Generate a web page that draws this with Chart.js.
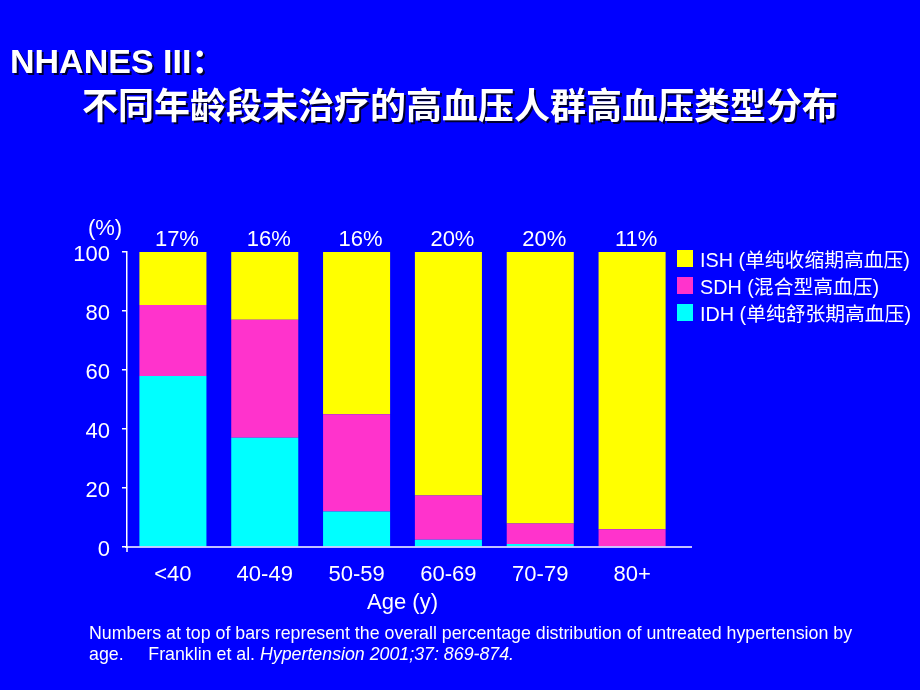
<!DOCTYPE html>
<html>
<head>
<meta charset="utf-8">
<script src="https://cdn.jsdelivr.net/npm/chart.js@4/dist/chart.umd.min.js"></script>
<style>
  body { margin: 0; background: #0000ff; }
  #wrap { position: relative; width: 920px; height: 690px; background: #0000ff; overflow: hidden; }
  #c { position: absolute; left: 0; top: 0; }
  .txt { position: absolute; color: #fff; white-space: nowrap; font-family: "Liberation Sans", Arial, "Noto Sans CJK SC", sans-serif; }
  #t1 { left: 10px; top: 44px; font-size: 34px; line-height: 1; font-weight: bold; text-shadow: 2px 2px 0 #000033; }
  #t2 { left: 82px; top: 85px; font-size: 36px; line-height: 1; font-weight: bold; font-family: "Noto Sans CJK SC", sans-serif; text-shadow: 2px 2px 0 #000033; }
  #legend { left: 677px; top: 245px; font-size: 19.8px; }
  #legend div { display: flex; align-items: center; height: 27px; }
  #legend span.box { display: inline-block; width: 16px; height: 17px; margin-right: 7px; }
  #note { left: 89px; top: 623px; font-size: 17.8px; line-height: 21px; }
</style>
</head>
<body>
<div id="wrap">
  <canvas id="c" width="920" height="690"></canvas>
  <div class="txt" id="t1">NHANES III：</div>
  <div class="txt" id="t2">不同年龄段未治疗的高血压人群高血压类型分布</div>
  <div class="txt" id="legend"></div>
  <div class="txt" id="note">Numbers at top of bars represent the overall percentage distribution of untreated hypertension by<br>age.&nbsp;&nbsp;&nbsp;&nbsp;&nbsp;Franklin et al. <i>Hypertension 2001;37: 869-874.</i></div>
</div>
<script>
// data
const ageGroups = ['<40', '40-49', '50-59', '60-69', '70-79', '80+']
const idh = [58, 37, 12, 2.5, 1, 0]
const sdh = [24, 40, 33, 15, 7, 6]
const ish = [18, 23, 55, 82.5, 92, 94]
const shareOfAll = ['17%', '16%', '16%', '20%', '20%', '11%']
const yTicks = [0, 20, 40, 60, 80, 100]

const fontFam = '"Liberation Sans", Arial, sans-serif'

const datasets = [
    { label: 'IDH (单纯舒张期高血压)', data: idh, backgroundColor: '#00ffff' },
    { label: 'SDH (混合型高血压)', data: sdh, backgroundColor: '#ff33cc' },
    { label: 'ISH (单纯收缩期高血压)', data: ish, backgroundColor: '#ffff00' }
]

// legend, top entry first
const legend = document.getElementById('legend')
for (const ds of datasets.slice().reverse()) {
    const row = document.createElement('div')
    row.innerHTML = `<span class="box" style="background:${ds.backgroundColor}"></span>${ds.label}`
    legend.appendChild(row)
}

const extras = {
    id: 'extras',
    afterDraw(chart) {
        const ctx = chart.ctx
        const area = chart.chartArea
        const yBottom = chart.scales.y.getPixelForValue(0)
        ctx.save()
        // x axis line, a bit longer than the plot
        ctx.strokeStyle = '#fff'
        ctx.lineWidth = 1.5
        ctx.beginPath()
        ctx.moveTo(area.left - 2, yBottom)
        ctx.lineTo(692, yBottom)
        // y axis pokes a little below zero
        ctx.moveTo(area.left, yBottom)
        ctx.lineTo(area.left, yBottom + 5)
        ctx.stroke()

        ctx.fillStyle = '#fff'
        ctx.font = '22px ' + fontFam
        ctx.textAlign = 'center'
        ctx.textBaseline = 'middle'
        ctx.fillText('(%)', 105, 229)
        const meta = chart.getDatasetMeta(2)
        meta.data.forEach((bar, i) => {
            ctx.fillText(shareOfAll[i], bar.x + 4, 240)
        })
        ctx.restore()
    }
}

new Chart(document.getElementById('c'), {
    type: 'bar',
    data: { labels: ageGroups, datasets: datasets },
    options: {
        responsive: false,
        animation: false,
        layout: { padding: { left: 60, right: 242, top: 252, bottom: 74 } },
        plugins: { legend: { display: false }, tooltip: { enabled: false } },
        datasets: { bar: { barPercentage: 0.73, categoryPercentage: 1 } },
        scales: {
            x: {
                stacked: true,
                grid: { display: false },
                border: { display: false },
                ticks: { color: '#fff', font: { family: fontFam, size: 22 }, padding: 7, maxRotation: 0 },
                title: { display: true, text: 'Age (y)', color: '#fff', font: { family: fontFam, size: 22 }, padding: 0 },
                afterFit(scale) { scale.height = 69 }
            },
            y: {
                stacked: true,
                min: 0,
                max: 100,
                afterBuildTicks(scale) { scale.ticks = yTicks.map(v => ({ value: v })) },
                grid: { drawOnChartArea: false, drawTicks: true, tickLength: 5, color: '#fff', lineWidth: 1.5 },
                border: { display: true, color: '#fff', width: 1.5 },
                ticks: { color: '#fff', font: { family: fontFam, size: 22 }, padding: 12, labelOffset: 3 },
                afterFit(scale) { scale.width = 67 }
            }
        }
    },
    plugins: [extras]
})
</script>
</body>
</html>
